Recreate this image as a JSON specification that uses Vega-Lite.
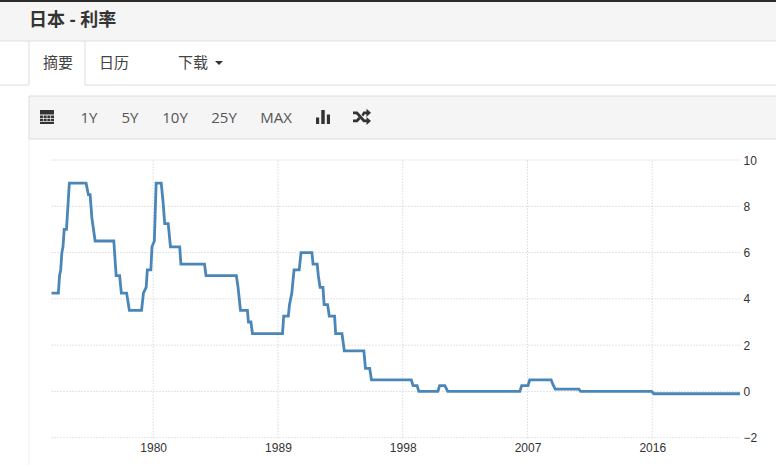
{"$schema":"https://vega.github.io/schema/vega-lite/v6.json","width":776,"height":465,"padding":0,"autosize":{"type":"none"},"background":"#ffffff","config":{"view":{"stroke":null},"font":"Open Sans, Noto Sans CJK SC"},
"datasets":{"rate":[
{"d":"1972-09-01","v":4.25},{"d":"1973-03-01","v":4.25},{"d":"1973-04-01","v":5},{"d":"1973-05-01","v":5.25},{"d":"1973-06-01","v":6},{"d":"1973-07-01","v":6.25},{"d":"1973-08-01","v":7},{"d":"1973-10-01","v":7},{"d":"1973-12-15","v":9},{"d":"1975-03-01","v":9},{"d":"1975-05-01","v":8.5},{"d":"1975-06-15","v":8.5},{"d":"1975-08-01","v":7.5},{"d":"1975-10-25","v":6.5},{"d":"1977-03-01","v":6.5},{"d":"1977-05-01","v":5},{"d":"1977-08-01","v":5},{"d":"1977-09-15","v":4.25},{"d":"1978-02-01","v":4.25},{"d":"1978-04-15","v":3.5},{"d":"1979-03-01","v":3.5},{"d":"1979-04-20","v":4.25},{"d":"1979-07-01","v":4.5},{"d":"1979-08-01","v":5.25},{"d":"1979-11-01","v":5.25},{"d":"1979-12-01","v":6.25},{"d":"1980-02-01","v":6.5},{"d":"1980-03-20","v":9},{"d":"1980-08-01","v":9},{"d":"1980-09-15","v":8.25},{"d":"1980-11-01","v":7.25},{"d":"1981-02-01","v":7.25},{"d":"1981-04-01","v":6.25},{"d":"1981-12-01","v":6.25},{"d":"1982-01-01","v":5.5},{"d":"1983-09-15","v":5.5},{"d":"1983-10-25","v":5},{"d":"1986-01-01","v":5},{"d":"1986-02-15","v":4.5},{"d":"1986-04-20","v":3.5},{"d":"1986-10-20","v":3.5},{"d":"1986-11-15","v":3},{"d":"1987-01-20","v":3},{"d":"1987-03-01","v":2.5},{"d":"1989-05-01","v":2.5},{"d":"1989-06-01","v":3.25},{"d":"1989-10-01","v":3.25},{"d":"1989-11-01","v":3.75},{"d":"1990-01-01","v":4.25},{"d":"1990-03-01","v":5.25},{"d":"1990-07-15","v":5.25},{"d":"1990-09-01","v":6},{"d":"1991-06-15","v":6},{"d":"1991-07-15","v":5.5},{"d":"1991-11-01","v":5.5},{"d":"1991-12-01","v":5},{"d":"1992-01-15","v":4.5},{"d":"1992-04-01","v":4.5},{"d":"1992-05-01","v":3.75},{"d":"1992-08-01","v":3.75},{"d":"1992-09-15","v":3.25},{"d":"1993-02-01","v":3.25},{"d":"1993-03-01","v":2.5},{"d":"1993-08-15","v":2.5},{"d":"1993-10-15","v":1.75},{"d":"1995-03-15","v":1.75},{"d":"1995-04-25","v":1},{"d":"1995-08-15","v":1},{"d":"1995-10-01","v":0.5},{"d":"1998-08-15","v":0.5},{"d":"1998-10-01","v":0.25},{"d":"1999-01-15","v":0.25},{"d":"1999-03-01","v":0},{"d":"2000-07-15","v":0},{"d":"2000-09-01","v":0.25},{"d":"2001-01-15","v":0.25},{"d":"2001-04-01","v":0},{"d":"2006-06-15","v":0},{"d":"2006-08-01","v":0.25},{"d":"2007-01-15","v":0.25},{"d":"2007-03-01","v":0.5},{"d":"2008-09-15","v":0.5},{"d":"2008-11-01","v":0.3},{"d":"2009-01-01","v":0.1},{"d":"2010-09-15","v":0.1},{"d":"2010-11-01","v":0},{"d":"2015-12-15","v":0},{"d":"2016-02-15","v":-0.1},{"d":"2022-05-01","v":-0.1}
]},
"layer":[
{"layer":[
{"data":{"values":[{"l":0,"r":15,"t":1,"b":3,"part":"header"},{"l":1,"r":15,"t":6,"b":8,"part":"toolbar"}]},"mark":{"type":"rect","fill":"#f5f5f5"},
"encoding":{"x":{"field":"l","type":"quantitative","axis":null,"scale":{"domain":[0,1,2,3,4,5,6,7,8,9,10,11,12,13,14,15],"range":[0,29,47,58,85,89,114,130,175,193,219,224,276,323,362,776],"nice":false,"zero":false}},"x2":{"field":"r"},"y":{"field":"t","type":"quantitative","axis":null,"scale":{"domain":[0,1,2,3,4,5,6,7,8,9],"range":[0,2,21,41,63,85,96,118,139,465],"nice":false,"zero":false}},"y2":{"field":"b"}}},
{"data":{"values":[{"l":0,"r":15,"t":0,"b":1}]},"mark":{"type":"rect","fill":"#2b2b2b"},"encoding":{"x":{"field":"l","type":"quantitative","axis":null},"x2":{"field":"r"},"y":{"field":"t","type":"quantitative","axis":null},"y2":{"field":"b"}}},
{"data":{"values":[{"l":0,"r":15,"t":3},{"l":0,"r":1,"t":5},{"l":4,"r":15,"t":5},{"l":1,"r":15,"t":6},{"l":1,"r":15,"t":8}]},"mark":{"type":"rule","stroke":"#dddddd","strokeWidth":1},"encoding":{"x":{"field":"l","type":"quantitative","axis":null},"x2":{"field":"r"},"y":{"field":"t","type":"quantitative","axis":null}}},
{"data":{"values":[{"l":1,"t":3,"b":5},{"l":4,"t":3,"b":5},{"l":1,"t":6,"b":8}]},"mark":{"type":"rule","stroke":"#dddddd","strokeWidth":1},"encoding":{"x":{"field":"l","type":"quantitative","axis":null},"y":{"field":"t","type":"quantitative","axis":null},"y2":{"field":"b"}}},
{"data":{"values":[{"l":1,"t":8,"b":9}]},"mark":{"type":"rule","stroke":"#f0f0f0","strokeWidth":1},"encoding":{"x":{"field":"l","type":"quantitative","axis":null},"y":{"field":"t","type":"quantitative","axis":null},"y2":{"field":"b"}}},
{"data":{"values":[{"c":1,"row":2,"label":"日本 - 利率"}]},"mark":{"type":"text","align":"left","baseline":"middle","fontSize":18,"fontWeight":"bold","fill":"#333333"},"encoding":{"x":{"field":"c","type":"quantitative","axis":null},"y":{"field":"row","type":"quantitative","axis":null},"text":{"field":"label"}}},
{"data":{"values":[{"c":3,"row":4,"label":"摘要"},{"c":6,"row":4,"label":"日历"},{"c":9,"row":4,"label":"下载"}]},"mark":{"type":"text","align":"center","baseline":"middle","fontSize":15,"fill":"#444444"},"encoding":{"x":{"field":"c","type":"quantitative","axis":null},"y":{"field":"row","type":"quantitative","axis":null},"text":{"field":"label"}}},
{"data":{"values":[{"c":5,"row":7,"label":"1Y"},{"c":7,"row":7,"label":"5Y"},{"c":8,"row":7,"label":"10Y"},{"c":11,"row":7,"label":"25Y"},{"c":12,"row":7,"label":"MAX"}]},"mark":{"type":"text","align":"center","baseline":"middle","fontSize":15,"fill":"#555555"},"encoding":{"x":{"field":"c","type":"quantitative","axis":null},"y":{"field":"row","type":"quantitative","axis":null},"text":{"field":"label"}}},
{"data":{"values":[{"c":10,"row":4}]},"mark":{"type":"point","shape":"M-1-.5H1L0 .5Z","filled":true,"size":64,"fill":"#333333","opacity":1},"encoding":{"x":{"field":"c","type":"quantitative","axis":null},"y":{"field":"row","type":"quantitative","axis":null}}},
{"data":{"values":[{"c":2,"row":6.95}]},"mark":{"type":"point","filled":true,"opacity":1,"fill":"#333333","size":196,"shape":"M-1-1H1V-.35H-1Z M-1-.2H-.58V.15H-1Z M-.48-.2H-.05V.15H-.48Z M.05-.2H.48V.15H.05Z M.58-.2H1V.15H.58Z M-1 .25H-.58V.6H-1Z M-.48 .25H-.05V.6H-.48Z M.05 .25H.48V.6H.05Z M.58 .25H1V.6H.58Z M-1 .7H1V1H-1Z"},"encoding":{"x":{"field":"c","type":"quantitative","axis":null},"y":{"field":"row","type":"quantitative","axis":null}}},
{"data":{"values":[{"c":13,"row":6.95}]},"mark":{"type":"point","filled":true,"opacity":1,"fill":"#333333","size":196,"shape":"M-1 1V.1H-.55V1Z M-.25 1V-1H.25V1Z M.55 1V-.35H1V1Z"},"encoding":{"x":{"field":"c","type":"quantitative","axis":null},"y":{"field":"row","type":"quantitative","axis":null}}},
{"data":{"values":[{"c":14,"row":6.95}]},"mark":{"type":"point","filled":true,"opacity":1,"fill":"#333333","size":324,"shape":"M-1-.6H-.5L.3.3H.5V0L1 .45L.5.9V.6H.15L-.65-.3H-1Z M-1 .3H-.65L-.38 0L-.18.25L-.5.6H-1Z M-.05-.25L.15-.6H.5V-.9L1-.45L.5 0V-.3H.3L.13-.05Z"},"encoding":{"x":{"field":"c","type":"quantitative","axis":null},"y":{"field":"row","type":"quantitative","axis":null}}}
]},
{"layer":[
{"data":{"values":[{"level":-2},{"level":0},{"level":2},{"level":4},{"level":6},{"level":8},{"level":10}]},"mark":{"type":"rule","stroke":"#c8c8c8","strokeWidth":1,"strokeDash":[1,2]},
"encoding":{"y":{"field":"level","type":"quantitative","scale":{"domain":[-2,10],"range":[437.7,160],"nice":false,"zero":false},"axis":{"orient":"right","offset":-35,"title":null,"values":[-2,0,2,4,6,8,10],"domain":false,"ticks":false,"grid":false,"labelFontSize":12,"labelColor":"#333333","labelFont":"Liberation Sans","labelPadding":2}},
"x":{"datum":{"year":1972,"month":9,"date":1},"type":"temporal","scale":{"domain":["1972-09-01","2022-05-01"],"range":[51.5,740]},"axis":{"orient":"bottom","offset":-27.3,"title":null,"values":[{"year":1980,"month":1,"date":1},{"year":1989,"month":1,"date":1},{"year":1998,"month":1,"date":1},{"year":2007,"month":1,"date":1},{"year":2016,"month":1,"date":1}],"format":"%Y","domain":false,"ticks":false,"grid":false,"labelFontSize":12,"labelColor":"#333333","labelFont":"Liberation Sans","labelPadding":5,"labelFlush":false}},
"x2":{"datum":{"year":2022,"month":5,"date":1}}}},
{"data":{"values":[{"yr":"1980-01-01"},{"yr":"1989-01-01"},{"yr":"1998-01-01"},{"yr":"2007-01-01"},{"yr":"2016-01-01"}]},"mark":{"type":"rule","stroke":"#c8c8c8","strokeWidth":1,"strokeDash":[1,2]},
"encoding":{"x":{"field":"yr","type":"temporal"},"y":{"datum":-2,"type":"quantitative"},"y2":{"datum":10}}},
{"data":{"name":"rate"},"mark":{"type":"line","stroke":"#4a86b8","strokeWidth":2.8,"clip":false,"interpolate":"linear"},
"encoding":{"x":{"field":"d","type":"temporal"},"y":{"field":"v","type":"quantitative"}}}
]}
],
"resolve":{"scale":{"x":"independent","y":"independent"},"axis":{"x":"independent","y":"independent"}}}
